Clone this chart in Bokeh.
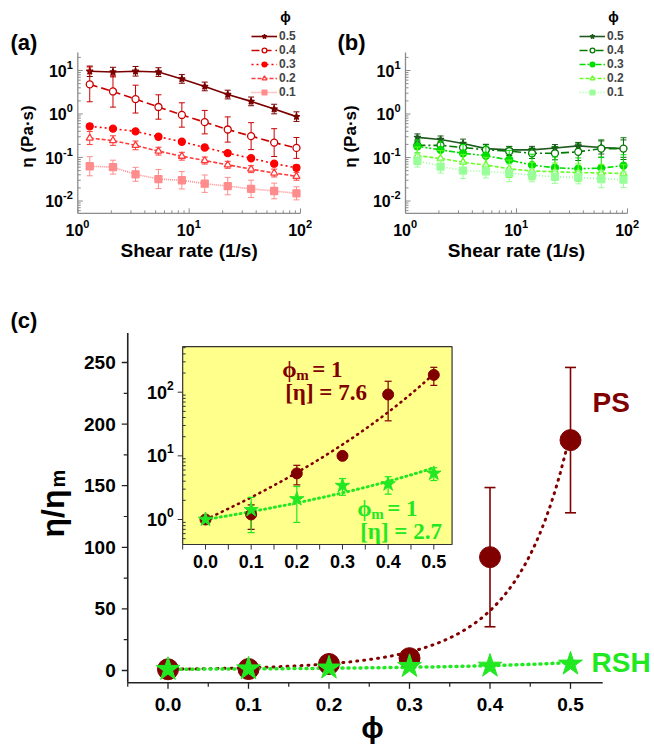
import numpy as np
from bokeh.plotting import figure
from bokeh.models import (ColumnDataSource, Legend, LegendItem, Label, Range1d,
                          LogScale, LinearScale)
from bokeh.core.properties import value
from bokeh.embed import file_html
from bokeh.resources import INLINE

# ---------------- data ----------------
shear_rate = [1.28, 2.07, 3.3, 5.3, 8.6, 13.8, 22.2, 36, 58, 92]
phi_levels = ["0.5", "0.4", "0.3", "0.2", "0.1"]

# panel (a): PS suspensions, viscosity (Pa s)
ps_eta_05 = [9.6, 9.2, 9.6, 9.2, 6.4, 4.3, 2.8, 1.95, 1.3, 0.87]
ps_eta_04 = [4.8, 3.3, 2.2, 1.45, 0.95, 0.65, 0.44, 0.31, 0.22, 0.166]
ps_eta_03 = [0.52, 0.46, 0.40, 0.30, 0.23, 0.17, 0.126, 0.096, 0.072, 0.058]
ps_eta_02 = [0.28, 0.245, 0.19, 0.14, 0.107, 0.085, 0.068, 0.054, 0.044, 0.037]
ps_eta_01 = [0.063, 0.060, 0.041, 0.032, 0.030, 0.025, 0.022, 0.019, 0.017, 0.015]
# error-bar half widths (decades)
ps_err_05 = [0.12, 0.11, 0.11, 0.10, 0.10, 0.10, 0.10, 0.10, 0.11, 0.11]
ps_err_04 = [0.40, 0.36, 0.32, 0.28, 0.28, 0.27, 0.29, 0.31, 0.32, 0.24]
ps_err_03 = [0.06, 0.04, 0.04, 0.05, 0.05, 0.05, 0.05, 0.05, 0.05, 0.06]
ps_err_02 = [0.15, 0.11, 0.10, 0.09, 0.09, 0.08, 0.08, 0.08, 0.09, 0.09]
ps_err_01 = [0.22, 0.16, 0.16, 0.22, 0.20, 0.20, 0.20, 0.20, 0.18, 0.15]

# panel (b): RSH suspensions, viscosity (Pa s)
rsh_eta_05 = [0.29, 0.26, 0.21, 0.16, 0.15, 0.15, 0.165, 0.185, 0.17, 0.16]
rsh_eta_04 = [0.19, 0.19, 0.17, 0.15, 0.14, 0.125, 0.125, 0.135, 0.16, 0.16]
rsh_eta_03 = [0.18, 0.15, 0.125, 0.11, 0.088, 0.067, 0.058, 0.055, 0.057, 0.065]
rsh_eta_02 = [0.11, 0.095, 0.078, 0.067, 0.055, 0.049, 0.047, 0.045, 0.044, 0.043]
rsh_eta_01 = [0.085, 0.062, 0.050, 0.048, 0.044, 0.039, 0.036, 0.035, 0.032, 0.031]
rsh_err_05 = [0.08, 0.08, 0.10, 0.10, 0.08, 0.08, 0.08, 0.08, 0.15, 0.20]
rsh_err_04 = [0.08, 0.08, 0.08, 0.12, 0.10, 0.12, 0.15, 0.20, 0.20, 0.25]
rsh_err_03 = [0.15, 0.20, 0.20, 0.22, 0.22, 0.25, 0.25, 0.25, 0.25, 0.25]
rsh_err_02 = [0.20, 0.18, 0.18, 0.18, 0.20, 0.20, 0.20, 0.20, 0.20, 0.20]
rsh_err_01 = [0.15, 0.15, 0.18, 0.15, 0.20, 0.15, 0.15, 0.15, 0.20, 0.18]

# panel (c): relative viscosity vs volume fraction
phi = [0.0, 0.1, 0.2, 0.3, 0.4, 0.5]
ps_rel = [1.0, 1.2, 5.3, 10.0, 92.0, 187.0]
ps_rel_err = [0.0, 0.5, 1.8, 0.0, 56.5, 59.0]
rsh_rel = [1.0, 1.42, 2.1, 3.4, 3.6, 5.3]
rsh_rel_err = [0.0, 0.8, 1.2, 1.0, 1.1, 1.2]
# Krieger-Dougherty fit parameters
ps_phi_m, ps_intr = 1.0, 7.6
rsh_phi_m, rsh_intr = 1.0, 2.7

# axis limits and ticks
shear_lim = (1, 100)
eta_lim = (0.0052, 26)
log_major_x = [1, 10, 100]
log_exp_x = ["0", "1", "2"]
log_major_y = [0.01, 0.1, 1, 10]
log_exp_y = ["-2", "-1", "0", "1"]
phi_lim = (-0.05, 0.54)
rel_lim = (-10, 274)
inset_lim = (0.405, 520)
x_ticks = [0.0, 0.1, 0.2, 0.3, 0.4, 0.5]
x_minor = [-0.05, 0.05, 0.15, 0.25, 0.35, 0.45]
y_ticks = [0, 50, 100, 150, 200, 250]
y_minor = [25, 75, 125, 175, 225]
inset_major = [1, 10, 100]
inset_exp = ["0", "1", "2"]

# ---------------- styles ----------------
SANS = "Liberation Sans"
SERIF = "Liberation Serif"
PS_C = "#800000"
RSH_C = "#22e822"
YELLOW = "#ffff8c"
AX_GRAY = "#8c8c8c"
AX_DARK = "#222222"
PS_COLS = ["#7a0000", "#cc0000", "#ff0000", "#ff3b3b", "#ff8c8c"]
RSH_COLS = ["#1f5a1f", "#007a00", "#00dd00", "#66ff22", "#99ff99"]
PS_DASH = ["solid", "8 4", "2 3", "4 2", "1 1"]
RSH_DASH = ["solid", "8 3 2 3", "6 2 2 2 2 2", "4 2", "1 2"]
MARKERS = ["star", "circle", "circle", "triangle", "square"]
FILLED = [True, False, True, False, True]

W, H = 654, 747


def lin_range(p0, v0, p1, v1, q0, q1):
    s = (v1 - v0) / (p1 - p0)
    return Range1d(v0 + (q0 - p0) * s, v0 + (q1 - p0) * s)


def log_range(p0, v0, p1, v1, q0, q1):
    l0, l1 = np.log10(v0), np.log10(v1)
    s = (l1 - l0) / (p1 - p0)
    return Range1d(10 ** (l0 + (q0 - p0) * s), 10 ** (l0 + (q1 - p0) * s))


p = figure(width=W, height=H, x_range=Range1d(0, W), y_range=Range1d(H, 0),
           min_border=0, x_axis_location=None, y_axis_location=None,
           output_backend="svg", toolbar_location=None)
p.outline_line_color = None
p.grid.visible = False

# pixel placement of each panel's axes
p.extra_x_ranges = {
    "ax": log_range(77.3, 1, 300, 100, 0, W),
    "bx": log_range(405, 1, 627, 100, 0, W),
    "cx": lin_range(167.5, 0.0, 570, 0.5, 0, W),
    "ix": lin_range(205, 0.0, 433.3, 0.5, 0, W),
}
p.extra_y_ranges = {
    "ay": log_range(70, 10, 200.5, 0.01, H, 0),
    "by": log_range(70, 10, 200.5, 0.01, H, 0),
    "cy": lin_range(670, 0, 362, 250, H, 0),
    "iy": log_range(519, 1, 391.7, 100, H, 0),
}
p.extra_x_scales = {"ax": LogScale(), "bx": LogScale(), "cx": LinearScale(), "ix": LinearScale()}
p.extra_y_scales = {"ay": LogScale(), "by": LogScale(), "cy": LinearScale(), "iy": LogScale()}


def label(x, y, text, size, color="black", font=SANS, style="bold",
          align="left", baseline="middle", angle=0.0):
    p.add_layout(Label(x=x, y=y, text=text, text_font=font, text_font_size=size,
                       text_font_style=style, text_color=color, text_align=align,
                       text_baseline=baseline, angle=angle))


def ticks(xr, yr, xs, ys, length, angle, color, width=1.0):
    p.ray(x=xs, y=ys, length=length, length_units="screen", angle=angle,
          x_range_name=xr, y_range_name=yr, line_color=color, line_width=width)


def texts(xr, yr, xs, ys, txt, size, xoff=0, yoff=0, align="center",
          baseline="middle", color="black"):
    src = ColumnDataSource(dict(x=xs, y=ys, t=txt,
                                xo=xoff if isinstance(xoff, list) else [xoff] * len(xs)))
    p.text(x="x", y="y", text="t", source=src, x_offset="xo", y_offset=yoff,
           x_range_name=xr, y_range_name=yr, text_align=align, text_baseline=baseline,
           text_font=value(SANS), text_font_style="bold", text_font_size=value(size),
           text_color=color)


def sup_width(s, size):
    return sum(0.333 * size if c == "-" else 0.556 * size for c in s)


def error_bars(xr, yr, xs, lo, hi, color, cap, width):
    src = ColumnDataSource(dict(x=xs, lo=lo, hi=hi))
    p.segment(x0="x", y0="lo", x1="x", y1="hi", source=src, x_range_name=xr,
              y_range_name=yr, line_color=color, line_width=width)
    for c in ("lo", "hi"):
        p.scatter(x="x", y=c, source=src, marker="dash", size=cap, x_range_name=xr,
                  y_range_name=yr, line_color=color, line_width=width)


# ---------------- panels (a) and (b) ----------------
def shear_panel(xr, yr, ys_list, errs_list, cols, dashes, legend_left, letter, letter_x,
                xlabel_cx, ylabel_cx):
    x0, x1 = shear_lim
    y0, y1 = eta_lim
    p.line(list(shear_lim), [y0, y0], x_range_name=xr, y_range_name=yr,
           line_color=AX_GRAY, line_width=1.3)
    p.line([x0, x0], list(eta_lim), x_range_name=xr, y_range_name=yr,
           line_color=AX_GRAY, line_width=1.3)
    minor_x = [m * 10 ** k for k in range(0, 2) for m in range(2, 10)]
    minor_y = [m * 10 ** k for k in range(-3, 2) for m in range(2, 10)
               if y0 < m * 10 ** k < y1]
    ticks(xr, yr, log_major_x, [y0] * 3, 5, np.pi / 2, AX_GRAY)
    ticks(xr, yr, minor_x, [y0] * len(minor_x), 3, np.pi / 2, AX_GRAY)
    ticks(xr, yr, [x0] * 4, log_major_y, 5, 0.0, AX_GRAY)
    ticks(xr, yr, [x0] * len(minor_y), minor_y, 3, 0.0, AX_GRAY)
    # tick labels 10^n
    texts(xr, yr, log_major_x, [y0] * 3, ["10"] * 3, "16px", xoff=5.5, yoff=17, align="right")
    texts(xr, yr, log_major_x, [y0] * 3, log_exp_x, "11px", xoff=5.5, yoff=11, align="left")
    texts(xr, yr, [x0] * 4, log_major_y, log_exp_y, "11px", xoff=-5, yoff=-6, align="right")
    texts(xr, yr, [x0] * 4, log_major_y, ["10"] * 4, "16px",
          xoff=[-5 - sup_width(e, 11) for e in log_exp_y], align="right")

    items = []
    for lab, yv, ev, col, dash, mk, fill in zip(phi_levels, ys_list, errs_list, cols, dashes,
                                                MARKERS, FILLED):
        error_bars(xr, yr, shear_rate, [v / 10 ** e for v, e in zip(yv, ev)],
                   [v * 10 ** e for v, e in zip(yv, ev)], col, 6, 1)
        src = ColumnDataSource(dict(x=shear_rate, y=yv))
        r1 = p.line("x", "y", source=src, x_range_name=xr, y_range_name=yr,
                    line_color=col, line_width=1.6, line_dash=dash)
        r2 = p.scatter("x", "y", source=src, x_range_name=xr, y_range_name=yr,
                       marker=mk, size=7, line_color=col, line_width=1.3,
                       fill_color=col if fill else "white")
        items.append(LegendItem(label=lab, renderers=[r1, r2]))
    leg = Legend(items=items, location=(legend_left, H - 99), padding=0, margin=0,
                 spacing=0, glyph_width=26, glyph_height=12, label_height=12,
                 label_standoff=2, label_text_font=SANS, label_text_font_style="bold",
                 label_text_font_size="12px", label_text_line_height=1.0,
                 background_fill_alpha=0, border_line_alpha=0)
    p.add_layout(leg)
    label(legend_left + 34, 16, "ϕ", "14px", align="center")
    label(letter_x, 42, letter, "22px")
    label(xlabel_cx, 250, "Shear rate (1/s)", "19px", align="center")
    label(ylabel_cx, 136, "η (Pa·s)", "17px", align="center", angle=np.pi / 2)


shear_panel("ax", "ay", [ps_eta_05, ps_eta_04, ps_eta_03, ps_eta_02, ps_eta_01],
            [ps_err_05, ps_err_04, ps_err_03, ps_err_02, ps_err_01],
            PS_COLS, PS_DASH, 251, "(a)", 10, 188.6, 27)
shear_panel("bx", "by", [rsh_eta_05, rsh_eta_04, rsh_eta_03, rsh_eta_02, rsh_eta_01],
            [rsh_err_05, rsh_err_04, rsh_err_03, rsh_err_02, rsh_err_01],
            RSH_COLS, RSH_DASH, 579, "(b)", 337, 516, 350)

# ---------------- panel (c) ----------------
phi_fit = np.linspace(0.0, 0.5, 80)
ps_fit = (1 - phi_fit / ps_phi_m) ** (-ps_intr * ps_phi_m)
rsh_fit = (1 - phi_fit / rsh_phi_m) ** (-rsh_intr * rsh_phi_m)

cx0, cx1 = phi_lim
cy0, cy1 = rel_lim
p.line(list(phi_lim), [cy0, cy0], x_range_name="cx", y_range_name="cy",
       line_color=AX_DARK, line_width=1.6)
p.line([cx0, cx0], list(rel_lim), x_range_name="cx", y_range_name="cy",
       line_color=AX_DARK, line_width=1.6)
ticks("cx", "cy", x_ticks, [cy0] * 6, 6, -np.pi / 2, AX_DARK, 1.3)
ticks("cx", "cy", x_minor, [cy0] * 6, 4, -np.pi / 2, AX_DARK, 1.2)
ticks("cx", "cy", [cx0] * 6, y_ticks, 6, np.pi, AX_DARK, 1.3)
ticks("cx", "cy", [cx0] * 5, y_minor, 4, np.pi, AX_DARK, 1.2)
texts("cx", "cy", x_ticks, [cy0] * 6, ["%.1f" % t for t in x_ticks], "19px", yoff=22)
texts("cx", "cy", [cx0] * 6, y_ticks, [str(t) for t in y_ticks], "19px", xoff=-12,
      align="right")

p.line(phi_fit, ps_fit, x_range_name="cx", y_range_name="cy", line_color=PS_C,
       line_width=3, line_dash="1 6", line_cap="round")
p.line(phi_fit, rsh_fit, x_range_name="cx", y_range_name="cy", line_color=RSH_C,
       line_width=3.5, line_dash="1 5", line_cap="round")
ps_has = [i for i, e in enumerate(ps_rel_err) if e > 0]
rsh_has = [i for i, e in enumerate(rsh_rel_err) if e > 0]
error_bars("cx", "cy", [phi[i] for i in ps_has],
           [ps_rel[i] - ps_rel_err[i] for i in ps_has],
           [ps_rel[i] + ps_rel_err[i] for i in ps_has], PS_C, 11, 1.6)
p.scatter(phi, ps_rel, x_range_name="cx", y_range_name="cy", marker="circle", size=21,
          fill_color=PS_C, line_color=PS_C)
p.scatter(phi, rsh_rel, x_range_name="cx", y_range_name="cy", marker="star", size=25,
          fill_color=RSH_C, line_color=RSH_C)

label(592, 402, "PS", "28px", color=PS_C)
label(591, 662, "RSH", "28px", color=RSH_C)
label(10, 320, "(c)", "22px")
label(372, 727, "ϕ", "30px", align="center")
label(52, 537, "η/η", "32px", baseline="alphabetic", angle=np.pi / 2)
label(57, 487, "m", "20px", baseline="alphabetic", angle=np.pi / 2)

# ---------------- inset ----------------
iy0, iy1 = inset_lim
p.quad(left=[cx0], right=[cx1], bottom=[iy0], top=[iy1], x_range_name="ix",
       y_range_name="iy", fill_color=YELLOW, line_color="#333333", line_width=1.2)
inset_minor = [m * 10 ** k for k in range(-1, 3) for m in range(2, 10) if iy0 < m * 10 ** k < iy1]
ticks("ix", "iy", x_ticks, [iy0] * 6, 5, -np.pi / 2, "#333333")
ticks("ix", "iy", x_minor, [iy0] * 6, 5, -np.pi / 2, "#333333")
ticks("ix", "iy", [cx0] * 3, inset_major, 5, np.pi, "#333333")
ticks("ix", "iy", [cx0] * len(inset_minor), inset_minor, 3, 0.0, "#333333")
texts("ix", "iy", x_ticks, [iy0] * 6, ["%.1f" % t for t in x_ticks], "18px", yoff=17)
texts("ix", "iy", [cx0] * 3, inset_major, inset_exp, "12px", xoff=-9, yoff=-7, align="right")
texts("ix", "iy", [cx0] * 3, inset_major, ["10"] * 3, "18px",
      xoff=[-9 - sup_width(e, 12) for e in inset_exp], align="right")

p.line(phi_fit, ps_fit, x_range_name="ix", y_range_name="iy", line_color=PS_C,
       line_width=2.6, line_dash="1 5", line_cap="round")
p.line(phi_fit, rsh_fit, x_range_name="ix", y_range_name="iy", line_color=RSH_C,
       line_width=3, line_dash="1 4", line_cap="round")
error_bars("ix", "iy", [phi[i] for i in ps_has],
           [ps_rel[i] - ps_rel_err[i] for i in ps_has],
           [ps_rel[i] + ps_rel_err[i] for i in ps_has], PS_C, 7, 1.2)
error_bars("ix", "iy", [phi[i] for i in rsh_has],
           [rsh_rel[i] - rsh_rel_err[i] for i in rsh_has],
           [rsh_rel[i] + rsh_rel_err[i] for i in rsh_has], RSH_C, 7, 1.2)
p.scatter(phi, ps_rel, x_range_name="ix", y_range_name="iy", marker="circle", size=11,
          fill_color=PS_C, line_color=PS_C)
p.scatter(phi, rsh_rel, x_range_name="ix", y_range_name="iy", marker="star", size=15,
          fill_color=RSH_C, line_color=RSH_C)


def phi_m_block(x, y, color, intr_text):
    label(x, y, "ϕ", "23px", color=color, font=SERIF, style="bold")
    label(x + 14, y + 5, "m", "15px", color=color, font=SERIF, style="bold")
    label(x + 30, y, "= 1", "23px", color=color, font=SERIF, style="bold")
    label(x + 3, y + 22.7, intr_text, "23px", color=color, font=SERIF, style="bold")


phi_m_block(281.7, 369, PS_C, "[η] = %.1f" % ps_intr)
phi_m_block(356.7, 508.3, RSH_C, "[η] = %.1f" % rsh_intr)

open("out.html", "w").write(file_html(p, INLINE))
